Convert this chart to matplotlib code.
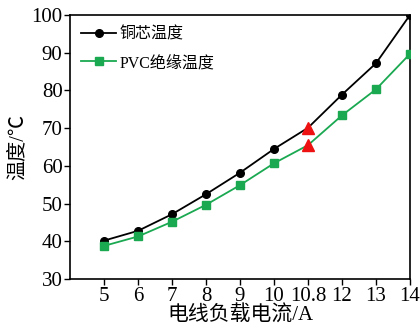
import matplotlib
matplotlib.use("Agg")
import matplotlib.pyplot as plt

plt.rcParams['font.family'] = ['Liberation Serif', 'Noto Sans CJK SC']
plt.rcParams['axes.unicode_minus'] = False

currents = ['5', '6', '7', '8', '9', '10', '10.8', '12', '13', '14']
copper_temp = [40.2, 42.8, 47.2, 52.5, 58.2, 64.5, 70.1, 78.9, 87.2, 100.0]
pvc_temp = [38.8, 41.3, 45.2, 49.7, 54.9, 60.7, 65.5, 73.4, 80.3, 89.7]
mark_label = '10.8'

green = '#1aa851'
red = '#ee1111'

fig = plt.figure(figsize=(4.2, 3.35), dpi=100)
ax = fig.add_axes([0.167, 0.167, 0.809, 0.788])

x = list(range(len(currents)))
i = currents.index(mark_label)
others = [k for k in x if k != i]

ax.plot(x, copper_temp, color='black', lw=1.3, marker='o', ms=5.5,
        markevery=others, label='铜芯温度', zorder=3)
ax.plot(x, pvc_temp, color=green, lw=1.3, marker='s', ms=5.5,
        markevery=others, label='PVC绝缘温度', zorder=3)

ax.plot([i, i], [copper_temp[i], pvc_temp[i]], ls='none', marker='^',
        ms=9, color=red, zorder=4)

ax.set_xlim(-1, len(currents) - 1)
ax.set_ylim(30, 100)
ax.set_xticks(x)
ax.set_xticklabels(currents)
ax.set_yticks(range(30, 101, 10))
ax.tick_params(direction='out', length=4, width=1, labelsize=15, pad=1.5)
ax.get_xticklines()[2 * i].set_color(red)
for s in ax.spines.values():
    s.set_linewidth(1.2)

ax.set_xlabel('电线负载电流/A', fontsize=15, labelpad=0)
ax.set_ylabel('温度/℃', fontsize=14.5, labelpad=3)

ax.legend(loc='upper left', frameon=False, fontsize=11.5, handlelength=2.2,
          handletextpad=0.2, borderaxespad=0.3, labelspacing=0.8)

fig.savefig('out.png', dpi=100)
